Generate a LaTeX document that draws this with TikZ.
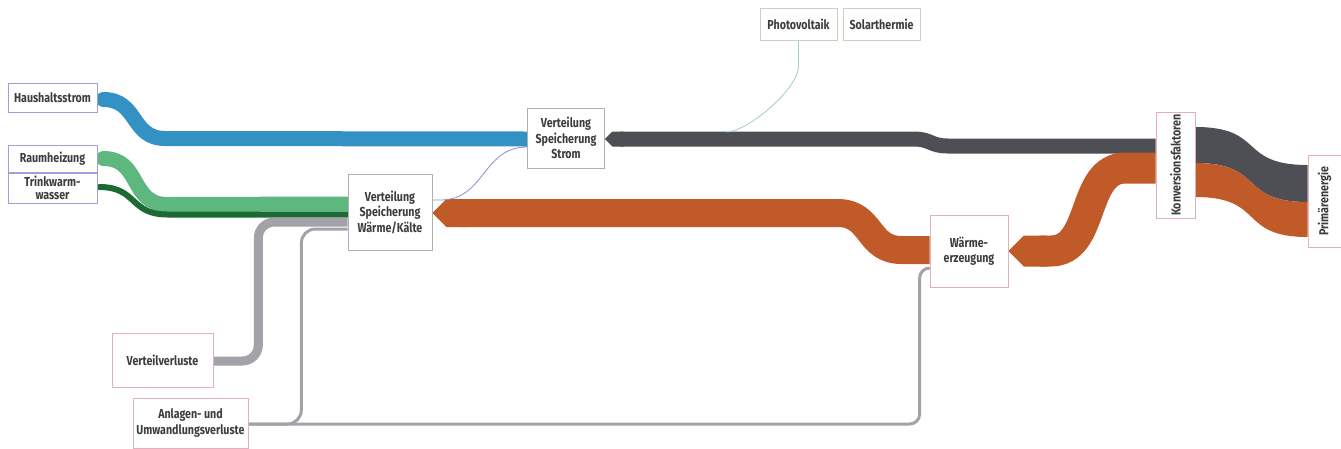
\documentclass[tikz,border=0pt]{standalone}
\usepackage{fontspec}
\setmainfont{Fira Sans}[FakeStretch=0.82]
\usetikzlibrary{arrows.meta,calc,backgrounds}

\definecolor{stromblau}{RGB}{52,145,196}
\definecolor{heizgruen}{RGB}{94,183,126}
\definecolor{twwgruen}{RGB}{30,106,52}
\definecolor{stromgrau}{RGB}{78,79,84}
\definecolor{heizorange}{RGB}{192,90,40}
\definecolor{verlustgrau}{RGB}{162,162,168}
\definecolor{linkviolett}{RGB}{140,140,210}
\definecolor{pvtuerkis}{RGB}{150,210,200}
\definecolor{randblau}{RGB}{160,160,215}
\definecolor{randgrau}{RGB}{175,175,175}
\definecolor{randrosa}{RGB}{228,175,190}
\definecolor{randoliv}{RGB}{205,208,192}

\begin{document}
\begin{tikzpicture}[x=1pt,y=-1pt,
    lbl/.style={draw=#1, fill=white, line width=0.7pt, align=center, inner sep=2pt,
      text=black!76, font=\fontsize{13}{15.5}\selectfont\bfseries},
    band/.style={line width=#1, line cap=butt},
    thinloss/.style={line width=3pt, verlustgrau, rounded corners=#1},
    link/.style={line width=0.8pt, #1}]
    \useasboundingbox (0,0) rectangle (1341,448);

    % Nutzung
    \node[lbl=randblau, minimum width=89pt, minimum height=29pt] (hh) at (52.5,97.5) {Haushaltsstrom};
    \node[lbl=randblau, minimum width=89pt, minimum height=27pt] (raum) at (52.5,158.5) {Raumheizung};
    \node[lbl=randblau, minimum width=89pt, minimum height=30pt, font=\fontsize{13}{13}\selectfont\bfseries] (trink) at (52.5,188) {Trinkwarm-\\wasser};

    % Verteilung
    \node[lbl=randgrau, minimum width=77pt, minimum height=60pt] (strom) at (566,138) {Verteilung\\Speicherung\\Strom};
    \node[lbl=randgrau, minimum width=84pt, minimum height=76pt] (waerme) at (390,212) {Verteilung\\Speicherung\\Wärme/Kälte};

    % Erzeugung
    \node[lbl=randoliv, minimum width=77pt, minimum height=32pt] (pv) at (798.5,24) {Photovoltaik};
    \node[lbl=randoliv, minimum width=77pt, minimum height=32pt] (solar) at (881.5,24) {Solarthermie};
    \node[lbl=randrosa, minimum width=78pt, minimum height=72pt] (erz) at (969,251) {Wärme-\\erzeugung};
    \node[lbl=randrosa, minimum width=39pt, minimum height=106pt] (konv) at (1175.5,165) {\rotatebox{90}{Konversionsfaktoren}};
    \node[lbl=randrosa, minimum width=33pt, minimum height=92pt] (prim) at (1324.5,201) {\rotatebox{90}{Primärenergie}};

    % Verluste
    \node[lbl=randrosa, minimum width=101pt, minimum height=54pt] (vv) at (162.5,360) {Verteilverluste};
    \node[lbl=randrosa, minimum width=115pt, minimum height=50pt] (anl) at (190.5,423) {Anlagen- und\\Umwandlungsverluste};

    \coordinate (pvin) at (726,132);

    \begin{scope}[on background layer]
    % Primaerenergie -> Konversionsfaktoren
    \fill[stromgrau] ($(konv.east)+(0,-38)$) .. controls +(70,0) and +(-70,0) .. ($(prim.west)+(0,-36)$)
        -- ($(prim.west)+(0,1)$) .. controls +(-70,0) and +(70,0) .. ($(konv.east)+(0,-2)$) -- cycle;
    \fill[heizorange] ($(konv.east)+(0,-2)$) .. controls +(70,0) and +(-70,0) .. ($(prim.west)+(0,1)$)
        -- ($(prim.west)+(0,36)$) .. controls +(-70,0) and +(70,0) .. ($(konv.east)+(0,32)$) -- cycle;

    % Strom
    \draw[band=15pt, stromgrau, -{Triangle Cap}] ($(konv.west)+(0,-19)$) -- ($(konv.west)+(-208,-19)$)
        .. controls +(-17,0) and +(17,0) .. ($(konv.west)+(-242,-26)$) -- ($(strom.east)+(0,1)$);
    \draw[band=15pt, stromblau, line cap=round] ($(hh.east)+(6,2)$) .. controls +(35,0) and +(-35,0) .. ($(hh.east)+(68,41)$)
        -- ($(strom.west)+(0,1)$);

    % Waerme
    \draw[band=31pt, heizorange, -{Triangle Cap}] ($(konv.west)+(0,3)$) -- ($(konv.west)+(-30,3)$)
        .. controls +(-45,0) and +(45,0) .. ($(konv.west)+(-105,86)$) -- (erz.east);
    \draw[band=28pt, heizorange, -{Triangle Cap}] ($(erz.west)+(0,-1)$) -- ($(erz.west)+(-28,-1)$)
        .. controls +(-35,0) and +(35,0) .. ($(erz.west)+(-92,-38)$) -- ($(waerme.east)+(0,1)$);
    \draw[band=15pt, heizgruen, line cap=round] ($(raum.east)+(6,0)$) .. controls +(38,0) and +(-38,0) .. ($(raum.east)+(70,46)$)
        -- ($(waerme.west)+(0,-8)$);
    \draw[band=6pt, twwgruen, line cap=round] ($(trink.east)+(2,-1)$) .. controls +(38,0) and +(-38,0) .. ($(trink.east)+(70,26.5)$)
        -- ($(waerme.west)+(0,2.5)$);

    % Verluste
    \draw[band=9pt, verlustgrau, rounded corners=16pt] ($(waerme.west)+(0,10)$) -| ($(vv.east)+(45,1)$) -- ($(vv.east)+(0,1)$);
    \draw[thinloss=14pt] ($(waerme.west)+(0,17)$) -| ($(anl.east)+(53,1)$) -- ($(anl.east)+(0,1)$);
    \draw[thinloss=10pt] ($(erz.west)+(0,17)$) -| ($(erz.west)+(-10,173)$) -- ($(anl.east)+(0,1)$);

    % Verknuepfungen
    \draw[link=linkviolett] ($(strom.west)+(0,9)$) .. controls +(-45,0) and +(45,0) .. ($(waerme.east)+(8,-12)$)
        -- ($(waerme.east)+(0,-12)$);
    \draw[link=pvtuerkis] (pv.south) -- ($(pv.south)+(0,26)$) .. controls +(0,22) and +(22,0) .. (pvin);
    \end{scope}
\end{tikzpicture}
\end{document}
